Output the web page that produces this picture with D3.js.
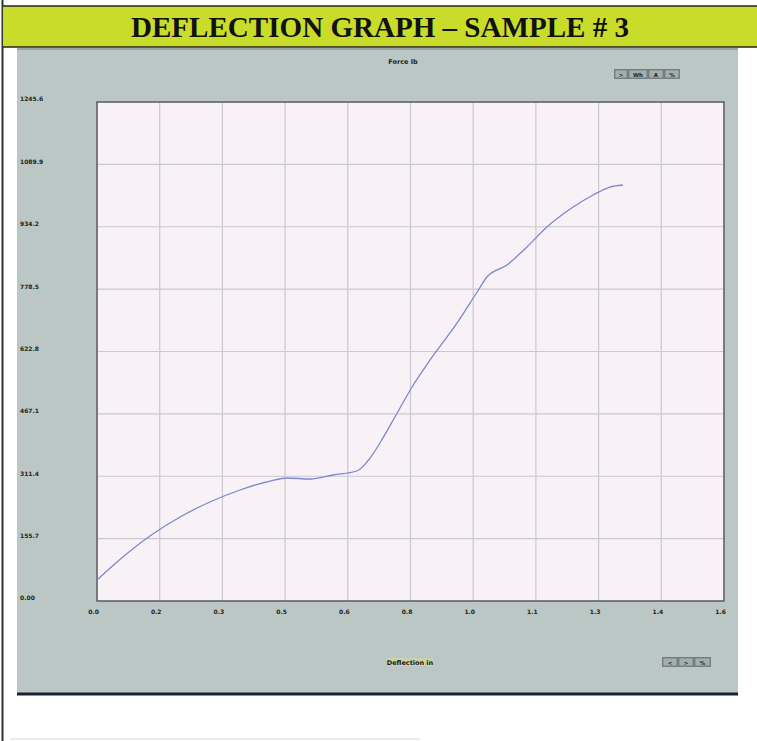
<!DOCTYPE html>
<html>
<head>
<meta charset="utf-8">
<script src="https://cdn.jsdelivr.net/npm/d3@7"></script>
<style>
  html, body { margin: 0; padding: 0; background: #ffffff; }
  svg { display: block; }
</style>
</head>
<body>
<svg id="chart" width="757" height="741"></svg>
<script>
// Load–deflection readings (deflection in inches, force in lb)
const deflection = [0.000, 0.066, 0.135, 0.212, 0.288, 0.365, 0.442, 0.485, 0.544, 0.602, 0.663,
                    0.697, 0.722, 0.766, 0.804, 0.850, 0.919, 0.970, 0.995, 1.046, 1.097, 1.148,
                    1.215, 1.266, 1.309, 1.342];
const force      = [52.4, 109.8, 162.3, 209.7, 247.1, 277.1, 299.5, 307.0, 304.5, 314.5, 324.5,
                    357.0, 394.4, 469.3, 534.2, 601.6, 694.0, 771.3, 808.8, 838.7, 883.7, 933.6,
                    983.5, 1013.5, 1033.4, 1038.4];

// Axis tick values and their printed labels
const xTickValues = [0, 0.16, 0.32, 0.48, 0.64, 0.80, 0.96, 1.12, 1.28, 1.44, 1.60];
const xTickLabels = ["0.0", "0.2", "0.3", "0.5", "0.6", "0.8", "1.0", "1.1", "1.3", "1.4", "1.6"];
const yTickValues = [0, 155.7, 311.4, 467.1, 622.8, 778.5, 934.2, 1089.9, 1245.6];
const yTickLabels = ["0.00", "155.7", "311.4", "467.1", "622.8", "778.5", "934.2", "1089.9", "1245.6"];

const titleText = "DEFLECTION GRAPH \u2013 SAMPLE # 3";
const yAxisTitle = "Force  lb";
const xAxisTitle = "Deflection  in";
const topButtons = [">", "Wh", "A", "%"];
const bottomButtons = ["<", ">", "%"];

const svg = d3.select("#chart");

// page frame
svg.append("line").attr("x1", 2.5).attr("x2", 2.5).attr("y1", 0).attr("y2", 741)
  .attr("stroke", "#333").attr("stroke-width", 2);

// title band
svg.append("rect").attr("x", 3).attr("y", 6).attr("width", 754).attr("height", 41)
  .attr("fill", "#c9dc2a");
svg.append("line").attr("x1", 3).attr("x2", 757).attr("y1", 6).attr("y2", 6)
  .attr("stroke", "#222").attr("stroke-width", 1.5);
svg.append("line").attr("x1", 3).attr("x2", 757).attr("y1", 47).attr("y2", 47)
  .attr("stroke", "#222").attr("stroke-width", 1.5);
svg.append("text").attr("x", 380).attr("y", 37)
  .attr("text-anchor", "middle")
  .attr("font-family", "Liberation Serif, Times New Roman, serif")
  .attr("font-weight", "bold").attr("font-size", 29)
  .attr("textLength", 498).attr("lengthAdjust", "spacingAndGlyphs")
  .attr("fill", "#111")
  .text(titleText);

// grey instrument panel
const panel = { x: 17, y: 48, w: 721, h: 645 };
svg.append("rect").attr("x", panel.x).attr("y", panel.y).attr("width", panel.w).attr("height", panel.h)
  .attr("fill", "#bac7c5");
svg.append("line").attr("x1", panel.x).attr("x2", panel.x + panel.w)
  .attr("y1", panel.y + panel.h + 1).attr("y2", panel.y + panel.h + 1)
  .attr("stroke", "#1d2233").attr("stroke-width", 3);
svg.append("line").attr("x1", panel.x).attr("x2", panel.x + panel.w)
  .attr("y1", panel.y + 1).attr("y2", panel.y + 1)
  .attr("stroke", "#8d9a9c").attr("stroke-width", 1.5);

// faint rule near page foot
svg.append("line").attr("x1", 10).attr("x2", 420).attr("y1", 739).attr("y2", 739)
  .attr("stroke", "#d8d8d8").attr("stroke-width", 1);

// plot area
const plot = { left: 97, right: 724, top: 102, bottom: 601 };
const x = d3.scaleLinear().domain([0, 1.6]).range([plot.left, plot.right]);
const y = d3.scaleLinear().domain([0, 1245.6]).range([plot.bottom, plot.top]);

svg.append("rect").attr("x", plot.left).attr("y", plot.top)
  .attr("width", plot.right - plot.left).attr("height", plot.bottom - plot.top)
  .attr("fill", "#f8f1f5");

// grid
const grid = svg.append("g").attr("stroke", "#c9c9d2").attr("stroke-width", 1.2);
grid.selectAll("line.v").data(xTickValues).join("line").attr("class", "v")
  .attr("x1", d => x(d)).attr("x2", d => x(d))
  .attr("y1", plot.top).attr("y2", plot.bottom);
grid.selectAll("line.h").data(yTickValues).join("line").attr("class", "h")
  .attr("x1", plot.left).attr("x2", plot.right)
  .attr("y1", d => y(d)).attr("y2", d => y(d));

// frame
svg.append("rect").attr("x", plot.left).attr("y", plot.top)
  .attr("width", plot.right - plot.left).attr("height", plot.bottom - plot.top)
  .attr("fill", "none").attr("stroke", "#4a4a4a").attr("stroke-width", 1.3);

// axes (labels only, no tick marks)
const xAxis = d3.axisBottom(x).tickValues(xTickValues)
  .tickFormat((d, i) => xTickLabels[i]).tickSize(0).tickPadding(0);
const gx = svg.append("g").attr("transform", `translate(-4, ${plot.bottom + 9})`).call(xAxis);
gx.select(".domain").remove();
gx.selectAll("text").attr("font-family", "DejaVu Sans, sans-serif").attr("font-size", 6)
  .attr("font-weight", "bold").attr("fill", "#222");

const yAxis = d3.axisLeft(y).tickValues(yTickValues)
  .tickFormat((d, i) => yTickLabels[i]).tickSize(0).tickPadding(0);
const gy = svg.append("g").attr("transform", "translate(20, -3)").call(yAxis);
gy.select(".domain").remove();
gy.selectAll("text").attr("text-anchor", "start")
  .attr("font-family", "DejaVu Sans, sans-serif").attr("font-size", 6)
  .attr("font-weight", "bold").attr("fill", "#222");

// load curve
const pts = deflection.map((d, i) => [d, force[i]]);
const line = d3.line().x(d => x(d[0])).y(d => y(d[1])).curve(d3.curveMonotoneX);
svg.append("path").datum(pts).attr("d", line)
  .attr("fill", "none").attr("stroke", "#7d88cf").attr("stroke-width", 1.3);

// axis titles
svg.append("text").attr("x", 403).attr("y", 64).attr("text-anchor", "middle")
  .attr("font-family", "DejaVu Sans, sans-serif").attr("font-size", 6.5).attr("font-weight", "bold")
  .attr("fill", "#222").text(yAxisTitle);

const xt = svg.append("g").attr("transform", "translate(410, 664)");
xt.append("rect").attr("x", -23).attr("y", -6).attr("width", 46).attr("height", 8).attr("fill", "#c9d3a8");
xt.append("text").attr("text-anchor", "middle").attr("y", 0.5)
  .attr("font-family", "DejaVu Sans, sans-serif").attr("font-size", 6.5).attr("font-weight", "bold")
  .attr("fill", "#1a1a1a").text(xAxisTitle);

// toolbar buttons
function buttons(x0, y0, labels, widths) {
  const g = svg.append("g").attr("transform", `translate(${x0}, ${y0})`);
  const total = d3.sum(widths);
  g.append("rect").attr("width", total).attr("height", 10).attr("fill", "#7f8b8b");
  let cx = 0;
  labels.forEach((t, i) => {
    g.append("rect").attr("x", cx + 1).attr("y", 1).attr("width", widths[i] - 2).attr("height", 8)
      .attr("fill", "#a3afae").attr("stroke", "#5b6564").attr("stroke-width", 0.6);
    g.append("text").attr("x", cx + widths[i] / 2).attr("y", 7.5).attr("text-anchor", "middle")
      .attr("font-family", "DejaVu Sans, sans-serif").attr("font-size", 5.5).attr("font-weight", "bold")
      .attr("fill", "#222").text(t);
    cx += widths[i];
  });
}
buttons(614, 69, topButtons, [14, 20, 16, 16]);
buttons(662, 657, bottomButtons, [16, 16, 17]);
</script>
</body>
</html>
